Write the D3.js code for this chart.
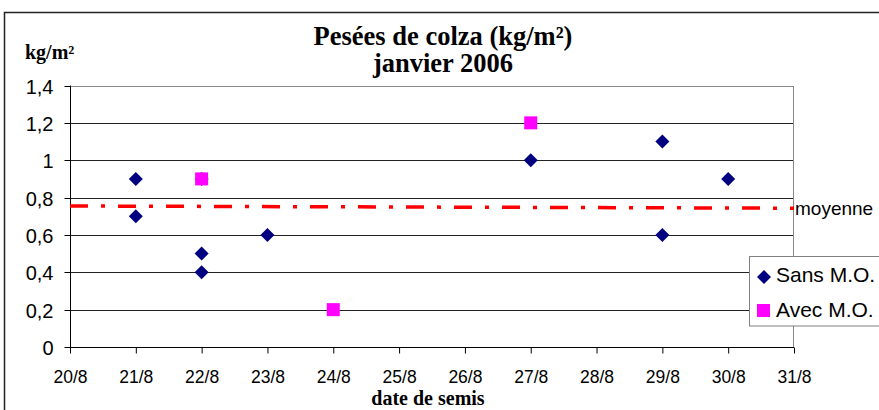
<!DOCTYPE html>
<html><head><meta charset="utf-8">
<script src="https://cdn.jsdelivr.net/npm/d3@7"></script>
<style>body{margin:0;background:#fff;overflow:hidden}svg{display:block}</style>
</head><body>
<script>
const dayTicks = [20,21,22,23,24,25,26,27,28,29,30,31];
const dayLabels = ["20/8","21/8","22/8","23/8","24/8","25/8","26/8","27/8","28/8","29/8","30/8","31/8"];
const yTicks = [0,0.2,0.4,0.6,0.8,1,1.2,1.4];
const yLabels = ["0","0,2","0,4","0,6","0,8","1","1,2","1,4"];
const sansDays = [21,21,22,22,22,23,27,29,29,30];
const sansVals = [0.9,0.7,0.9,0.5,0.4,0.6,1.0,1.1,0.6,0.9];
const avecDays = [22,24,27];
const avecVals = [0.9,0.2,1.2];
const moyDays = [20,31];
const moyVals = [0.755,0.743];
const seriesNames = ["Sans M.O.","Avec M.O."];

const W=879,H=410;
const sans="Arial, 'Liberation Sans', sans-serif";
const serif="'Times New Roman','Liberation Serif',serif";
const svg=d3.select("body").append("svg").attr("width",W).attr("height",H);
const x=d3.scaleLinear().domain([20,31]).range([70,794]);
const y=d3.scaleLinear().domain([0,1.4]).range([347,85.5]);

// outer frame
svg.append("rect").attr("x",4.5).attr("y",12.5).attr("width",W).attr("height",H)
  .attr("fill","none").attr("stroke","#222").attr("stroke-width",1.5);

// gridlines
svg.append("g").selectAll("line").data(yTicks.slice(1)).join("line")
  .attr("x1",70).attr("x2",794).attr("y1",d=>Math.round(y(d))+0.5).attr("y2",d=>Math.round(y(d))+0.5)
  .attr("stroke",d=>d===1.4?"#888":"#222").attr("stroke-width",1);
// right border
svg.append("line").attr("x1",793.5).attr("x2",793.5).attr("y1",Math.round(y(1.4))+0.5).attr("y2",347)
  .attr("stroke","#888");

// axes
const yAxis=d3.axisLeft(y).tickValues(yTicks).tickFormat((d,i)=>yLabels[i]).tickSize(6).tickPadding(11);
const gy=svg.append("g").attr("transform","translate(70.5,0)").call(yAxis);
gy.selectAll("text").attr("font-family",sans).attr("font-size",20).attr("fill","#000").attr("dy","0.36em");
gy.selectAll("line").attr("stroke","#000");
gy.select(".domain").attr("stroke","#000").attr("d","M0,"+y(1.4)+"V"+(y(0)+0.5));
gy.selectAll(".tick").attr("transform",d=>"translate(0,"+(Math.round(y(d))+0.5)+")");

const xAxis=d3.axisBottom(x).tickValues(dayTicks).tickFormat((d,i)=>dayLabels[i]).tickSize(6);
const gx=svg.append("g").attr("transform","translate(0,347.5)").call(xAxis);
gx.selectAll("text").attr("font-family",sans).attr("font-size",17.5).attr("fill","#000").attr("y",35).attr("dy",0);
gx.selectAll("line").attr("stroke","#000");
gx.select(".domain").attr("stroke","#000").attr("d","M70,0H794");

// moyenne line
const line=d3.line().x(d=>x(d[0])).y(d=>y(d[1]));
svg.append("path").datum(moyDays.map((d,i)=>[d,moyVals[i]])).attr("d",line)
  .attr("fill","none").attr("stroke","#ff0000").attr("stroke-width",3.5)
  .attr("stroke-dasharray","18,13,4,13");
svg.append("text").attr("x",795).attr("y",215).text("moyenne")
  .attr("font-family",sans).attr("font-size",19);

// points
const diamond=s=>`M0,${-s}L${s},0L0,${s}L${-s},0Z`;
svg.append("g").selectAll("path").data(sansDays.map((d,i)=>[d,sansVals[i]])).join("path")
  .attr("transform",d=>`translate(${x(d[0])},${y(d[1])})`).attr("d",diamond(7)).attr("fill","#000080");
svg.append("g").selectAll("rect").data(avecDays.map((d,i)=>[d,avecVals[i]])).join("rect")
  .attr("x",d=>x(d[0])-6.5).attr("y",d=>y(d[1])-6.5).attr("width",13).attr("height",13).attr("fill","#ff00ff");

// legend
const lg=svg.append("g");
lg.append("rect").attr("x",749.5).attr("y",256.5).attr("width",150).attr("height",69.5)
  .attr("fill","#fff").attr("stroke","#808080");
lg.append("path").attr("transform","translate(764,277)").attr("d",diamond(7)).attr("fill","#000080");
lg.append("rect").attr("x",757).attr("y",304).attr("width",13).attr("height",13).attr("fill","#ff00ff");
lg.selectAll("text.l").data(seriesNames).join("text").attr("class","l")
  .attr("x",776).attr("y",(d,i)=>282+i*35).text(d=>d)
  .attr("font-family",sans).attr("font-size",21);

// titles
svg.append("text").attr("x",443).attr("y",45).attr("text-anchor","middle").text("Pesées de colza (kg/m²)")
  .attr("font-family",serif).attr("font-weight","bold").attr("font-size",26.5);
svg.append("text").attr("x",443).attr("y",72).attr("text-anchor","middle").text("janvier 2006")
  .attr("font-family",serif).attr("font-weight","bold").attr("font-size",26.5);
svg.append("text").attr("x",25).attr("y",59).text("kg/m²")
  .attr("font-family",serif).attr("font-weight","bold").attr("font-size",20);
svg.append("text").attr("x",428).attr("y",404.5).attr("text-anchor","middle").text("date de semis")
  .attr("font-family",serif).attr("font-weight","bold").attr("font-size",20);
</script>
</body></html>
